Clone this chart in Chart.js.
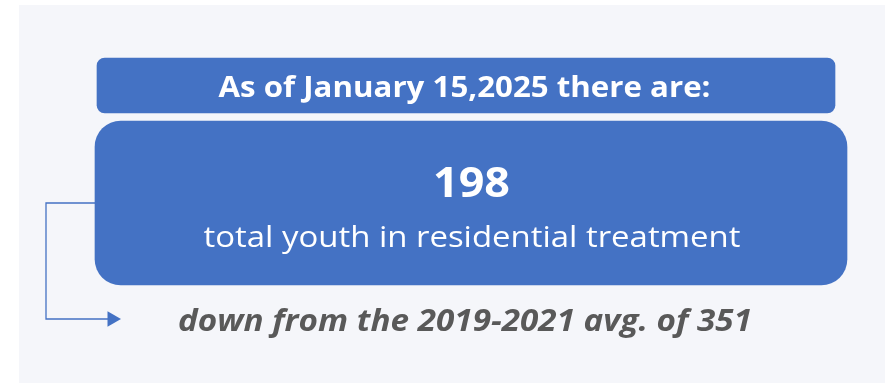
<!DOCTYPE html>
<html>
<head>
<meta charset="utf-8">
<script src="https://cdn.jsdelivr.net/npm/chart.js@4"></script>
<style>
  html, body { margin: 0; padding: 0; background: #ffffff; }
  .chart-box { width: 892px; height: 383px; }
</style>
</head>
<body>
<div class="chart-box"><canvas id="myChart"></canvas></div>
<script>
// values shown in the callout
const asOfDate = ["January 15,2025"];
const youthCount = [198];
const countCaption = ["total youth in residential treatment"];
const baselineYears = ["2019-2021"];
const baselineAvg = [351];

// page layout (px units on hidden linear scales)
const W = 892, H = 383;
const blue = "#4472C4";
const grey = "#595959";
const panel = { left: 19, top: 5, right: 885, bottom: 383, color: "#f5f6fa" };
const headerBox = { from: 97, to: 835, mid: 85.5, thick: 55, radius: 8 };
const countBox = { from: 95, to: 847, mid: 203, thick: 164, radius: 26 };
const connector = [
  { x: 95, y: 203 }, { x: 46, y: 203 }, { x: 46, y: 319 }, { x: 108, y: 319 }
];
const arrowHead = [{ x: 112, y: 319 }];

const texts = [
  { text: `As of ${asOfDate[0]} there are:`, x: 464.5, y: 97, size: 29, weight: "bold", style: "normal", color: "#ffffff", width: 492 },
  { text: String(youthCount[0]), x: 471.5, y: 197, size: 42, weight: "bold", style: "normal", color: "#ffffff", width: 77 },
  { text: countCaption[0], x: 472, y: 247, size: 30, weight: "normal", style: "normal", color: "#ffffff", width: 537 },
  { text: `down from the ${baselineYears[0]} avg. of ${baselineAvg[0]}`, x: 465, y: 331, size: 30, weight: "bold", style: "italic", color: grey, width: 574 }
];

const backgroundPlugin = {
  id: "panelBg",
  beforeDraw(chart) {
    const { ctx, scales: { x, y } } = chart;
    ctx.save();
    ctx.fillStyle = "#ffffff";
    ctx.fillRect(0, 0, chart.width, chart.height);
    ctx.fillStyle = panel.color;
    const l = x.getPixelForValue(panel.left), r = x.getPixelForValue(panel.right);
    const t = y.getPixelForValue(panel.top), b = y.getPixelForValue(panel.bottom);
    ctx.fillRect(l, t, r - l, b - t);
    ctx.restore();
  }
};

const textPlugin = {
  id: "calloutText",
  afterDatasetsDraw(chart) {
    const { ctx, scales: { x, y } } = chart;
    texts.forEach((t) => {
      ctx.save();
      ctx.font = `${t.style} ${t.weight} ${t.size}px "Open Sans", "Noto Sans", sans-serif`;
      ctx.fillStyle = t.color;
      ctx.textAlign = "center";
      ctx.textBaseline = "alphabetic";
      const measured = ctx.measureText(t.text).width;
      const sx = t.width / measured;
      ctx.translate(x.getPixelForValue(t.x), y.getPixelForValue(t.y));
      ctx.scale(sx, 1);
      ctx.fillText(t.text, 0, 0);
      ctx.restore();
    });
  }
};

new Chart(document.getElementById("myChart"), {
  type: "bar",
  data: {
    datasets: [
      {
        type: "bar",
        indexAxis: "y",
        data: [{ x: [headerBox.from, headerBox.to], y: headerBox.mid }],
        backgroundColor: blue,
        borderRadius: headerBox.radius,
        borderSkipped: false,
        barThickness: headerBox.thick,
        grouped: false
      },
      {
        type: "bar",
        indexAxis: "y",
        data: [{ x: [countBox.from, countBox.to], y: countBox.mid }],
        backgroundColor: blue,
        borderRadius: countBox.radius,
        borderSkipped: false,
        barThickness: countBox.thick,
        grouped: false
      },
      {
        type: "line",
        data: connector,
        borderColor: blue,
        borderWidth: 1.3,
        pointRadius: 0,
        tension: 0,
        fill: false
      },
      {
        type: "scatter",
        data: arrowHead,
        pointStyle: "triangle",
        rotation: 90,
        pointRadius: 9,
        backgroundColor: blue,
        borderColor: blue,
        borderWidth: 0
      }
    ]
  },
  options: {
    responsive: true,
    maintainAspectRatio: false,
    animation: false,
    layout: { padding: 0, autoPadding: false },
    scales: {
      x: { type: "linear", min: 0, max: W, offset: false, display: false },
      y: { type: "linear", min: 0, max: H, reverse: true, offset: false, display: false }
    },
    plugins: {
      legend: { display: false },
      tooltip: { enabled: false }
    }
  },
  plugins: [backgroundPlugin, textPlugin]
});
</script>
</body>
</html>
